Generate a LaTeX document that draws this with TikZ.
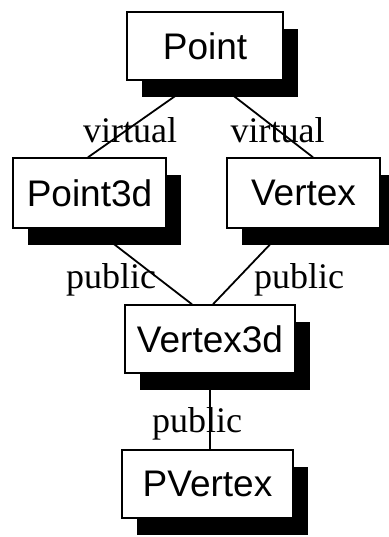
\documentclass[tikz,border=0pt]{standalone}
\usepackage{fontspec}
\setmainfont{Liberation Serif}
\newfontfamily\boxfont{Liberation Sans}
\usetikzlibrary{shadows}
\pgfdeclarelayer{back}
\pgfdeclarelayer{links}
\pgfsetlayers{back,links,main}
\begin{document}
\begin{tikzpicture}[x=1pt,y=1pt,
  cls/.style={draw=black, line width=1.4pt, fill=white, inner sep=0pt,
    font=\boxfont\fontsize{37}{40}\selectfont,
    drop shadow={shadow xshift=15pt, shadow yshift=-17pt, fill=black, opacity=1}},
  lbl/.style={anchor=base, inner sep=0pt, font=\fontsize{36}{40}\selectfont},
  link/.style={draw=black, line width=1.8pt}]
\useasboundingbox (0,0) rectangle (388,-537);
\begin{pgfonlayer}{back}
\fill[white] (0,0) rectangle (388,-537);
\end{pgfonlayer}
\node[cls, minimum width=156pt, minimum height=68pt] (point) at (205,-46) {Point};
\node[cls, minimum width=153pt, minimum height=70pt] (p3d) at (89.5,-193) {Point3d};
\node[cls, minimum width=153pt, minimum height=70pt] (vtx) at (303.5,-193) {Vertex};
\node[cls, minimum width=170pt, minimum height=68pt] (v3d) at (210,-339) {Vertex3d};
\node[cls, minimum width=171pt, minimum height=68pt] (pv) at (207.5,-484) {PVertex};
\begin{pgfonlayer}{links}
\draw[link] ([xshift=-8pt]point.south) -- ([xshift=-1.5pt]p3d.north);
\draw[link] ([xshift=9pt]point.south) -- ([xshift=9.5pt]vtx.north);
\draw[link] ([xshift=4.5pt]p3d.south) -- ([xshift=-18pt]v3d.north);
\draw[link] ([xshift=-18.5pt]vtx.south) -- ([xshift=3pt]v3d.north);
\draw[link, line width=1.4pt] (v3d.south) -- ([xshift=2.5pt]pv.north);
\end{pgfonlayer}
\node[lbl] (l1) at (130,-143) {virtual};
\node[lbl] (l2) at (277.5,-143) {virtual};
\node[lbl] (l3) at (111,-288) {public};
\node[lbl] (l4) at (299,-288) {public};
\node[lbl] (l5) at (197,-432) {public};
\end{tikzpicture}
\end{document}
